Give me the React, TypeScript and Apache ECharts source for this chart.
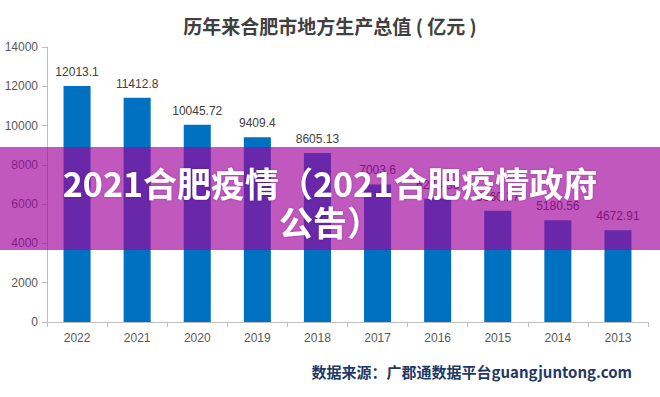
import React, { useEffect, useRef } from "react";
import * as echarts from "echarts";

const categories = ["2022", "2021", "2020", "2019", "2018", "2017", "2016", "2015", "2014", "2013"];
const gdpValues = [12013.1, 11412.8, 10045.72, 9409.4, 8605.13, 7003.6, 6274.38, 5660.27, 5180.56, 4672.91];
const valueLabels = ["12013.1", "11412.8", "10045.72", "9409.4", "8605.13", "7003.6", "6274.38", "5660.27", "5180.56", "4672.91"];
const yTicks = [0, 2000, 4000, 6000, 8000, 10000, 12000, 14000];

const titleText = "历年来合肥市地方生产总值 ( 亿元 )";
const overlayLine1 = "2021合肥疫情（2021合肥疫情政府";
const overlayLine2 = "公告）";
const sourceText = "数据来源：广郡通数据平台guangjuntong.com";

export default function App() {
  const ref = useRef<HTMLDivElement>(null);
  useEffect(() => {
    document.body.style.margin = "0";
    if (!ref.current) return;
    const chart = echarts.init(ref.current, undefined, { renderer: "svg" });
    const narrow = "'Liberation Sans Narrow', 'Liberation Sans', Arial, sans-serif";
    chart.setOption({
      animation: false,
      backgroundColor: "#ffffff",
      title: {
        text: titleText,
        left: "center",
        top: 11,
        textStyle: {
          fontSize: 19,
          fontWeight: "bold",
          color: "#404040",
          fontFamily: "'Noto Sans CJK SC', sans-serif",
        },
      },
      grid: { left: 47, right: 12, top: 47, bottom: 75, containLabel: false },
      xAxis: {
        type: "category",
        data: categories,
        axisLine: { show: true, lineStyle: { color: "#bfbfbf", width: 1 } },
        axisTick: { show: true, alignWithLabel: false, lineStyle: { color: "#bfbfbf" }, length: 5 },
        axisLabel: { color: "#595959", fontSize: 12, fontFamily: narrow, margin: 10 },
      },
      yAxis: {
        type: "value",
        min: yTicks[0],
        max: yTicks[yTicks.length - 1],
        interval: 2000,
        axisLine: { show: true, lineStyle: { color: "#bfbfbf", width: 1 } },
        axisTick: { show: true, inside: false, length: 5, lineStyle: { color: "#bfbfbf" } },
        splitLine: { show: false },
        axisLabel: {
          color: "#595959",
          fontSize: 12,
          fontFamily: narrow,
          margin: 9,
          formatter: (v: number) => String(v),
        },
      },
      series: [
        {
          type: "bar",
          data: gdpValues,
          barWidth: "45%",
          itemStyle: { color: "#0070c0" },
          label: {
            show: true,
            position: "top",
            distance: 8,
            color: "#404040",
            fontSize: 12,
            fontFamily: narrow,
            formatter: (p: any) => valueLabels[p.dataIndex],
          },
        },
      ],
      graphic: [
        {
          type: "rect",
          left: 0,
          top: 147,
          z: 100,
          shape: { width: 660, height: 103 },
          style: { fill: "rgba(160, 2, 156, 0.66)" },
        },
        {
          type: "text",
          x: 330,
          y: 182,
          z: 101,
          style: {
            text: overlayLine1,
            fill: "#ffffff",
            fontSize: 34,
            fontWeight: "bold",
            fontFamily: "'Noto Sans CJK SC', sans-serif",
            align: "center",
            verticalAlign: "middle",
            textShadowColor: "rgba(0,0,0,0.25)",
            textShadowBlur: 2,
          },
        },
        {
          type: "text",
          x: 330,
          y: 221,
          z: 101,
          style: {
            text: overlayLine2,
            fill: "#ffffff",
            fontSize: 34,
            fontWeight: "bold",
            fontFamily: "'Noto Sans CJK SC', sans-serif",
            align: "center",
            verticalAlign: "middle",
            textShadowColor: "rgba(0,0,0,0.25)",
            textShadowBlur: 2,
          },
        },
        {
          type: "text",
          x: 632,
          y: 371,
          z: 50,
          style: {
            text: sourceText,
            fill: "#1f3864",
            fontSize: 15,
            fontWeight: "bold",
            fontFamily: "'Noto Sans CJK SC', sans-serif",
            align: "right",
            verticalAlign: "middle",
          },
        },
      ],
    });
    return () => chart.dispose();
  }, []);
  return <div ref={ref} style={{ width: 660, height: 397 }} />;
}
